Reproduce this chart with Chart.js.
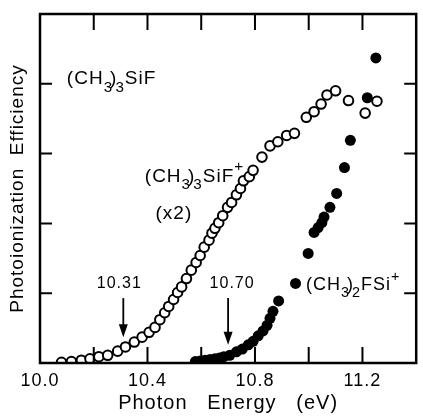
<!DOCTYPE html>
<html>
<head>
<meta charset="utf-8">
<script src="https://cdn.jsdelivr.net/npm/chart.js@4"></script>
<style>
  html, body { margin: 0; padding: 0; background: #fff; }
  #chart { display: block; }
</style>
</head>
<body>
<canvas id="chart" width="423" height="418"></canvas>
<script>
// (CH3)3SiF+ (x2) -- open circles
const openEnergy = [10.080, 10.117, 10.154, 10.186, 10.219, 10.252, 10.289, 10.318, 10.351, 10.380,
  10.406, 10.428, 10.446, 10.464, 10.479, 10.497, 10.512, 10.527, 10.545, 10.563,
  10.581, 10.596, 10.611, 10.629, 10.640, 10.651, 10.665, 10.680, 10.698, 10.713,
  10.731, 10.746, 10.757, 10.779, 10.793, 10.826, 10.856, 10.885, 10.918, 10.947,
  10.991, 11.020, 11.046, 11.068, 11.100, 11.148, 11.210, 11.254];
const openEff = [0.01, 0.02, 0.04, 0.06, 0.09, 0.11, 0.17, 0.23, 0.30, 0.37,
  0.44, 0.51, 0.62, 0.72, 0.81, 0.91, 1.01, 1.09, 1.21, 1.33,
  1.44, 1.54, 1.66, 1.76, 1.86, 1.93, 2.01, 2.11, 2.23, 2.30,
  2.41, 2.50, 2.61, 2.67, 2.76, 2.95, 3.11, 3.17, 3.26, 3.29,
  3.52, 3.60, 3.71, 3.84, 3.90, 3.76, 3.58, 3.75];

// (CH3)2FSi+ -- filled circles
const filledEnergy = [10.578, 10.596, 10.614, 10.633, 10.651, 10.668, 10.684, 10.706, 10.731, 10.753,
  10.775, 10.793, 10.812, 10.830, 10.845, 10.856, 10.867, 10.888, 10.951, 10.998,
  11.020, 11.035, 11.049, 11.057, 11.079, 11.104, 11.133, 11.155, 11.218, 11.250];
const filledEff = [0.02, 0.03, 0.04, 0.05, 0.06, 0.07, 0.09, 0.11, 0.16, 0.20,
  0.26, 0.31, 0.39, 0.46, 0.54, 0.64, 0.74, 0.89, 1.14, 1.57,
  1.87, 1.94, 2.01, 2.09, 2.23, 2.43, 2.80, 3.19, 3.80, 4.37];

// axes
const xLabelValues = [10.0, 10.4, 10.8, 11.2];
const xTickMarks = [10.2, 10.4, 10.6, 10.8, 11.0, 11.2];
const yTickMarks = [1, 2, 3, 4];

// thresholds marked with arrows
const onsetEnergy = [10.31, 10.70];
const onsetText = ['10.31', '10.70'];

const FONT = "'Liberation Sans', Arial, sans-serif";

function toPoints(xs, ys) {
  return xs.map((v, i) => ({ x: v, y: ys[i] }));
}

// formula text with sub/superscripts: [text, shift]  shift: 0 normal, 1 sub, -1 sup
function drawFormula(ctx, parts, x, y, size) {
  let cx = x;
  parts.forEach(p => {
    const s = p[1] === 0 ? size : size * 0.8;
    const dy = p[1] === 1 ? size * 0.38 : (p[1] === -1 ? -size * 0.55 : 0);
    ctx.font = s + 'px ' + FONT;
    ctx.fillText(p[0], cx, y + dy);
    cx += ctx.measureText(p[0]).width + (p[2] || 0);
  });
}

const decor = {
  id: 'decor',
  beforeDraw(chart) {
    chart.ctx.letterSpacing = '1px';
  },
  afterDraw(chart) {
    const ctx = chart.ctx;
    const a = chart.chartArea;
    const x = chart.scales.x, y = chart.scales.y;
    ctx.save();
    ctx.strokeStyle = '#000';
    ctx.fillStyle = '#000';

    // frame
    ctx.lineWidth = 2.5;
    ctx.strokeRect(a.left, a.top, a.right - a.left, a.bottom - a.top);

    // inward ticks
    ctx.lineWidth = 2;
    ctx.beginPath();
    xTickMarks.forEach(v => {
      const px = x.getPixelForValue(v);
      ctx.moveTo(px, a.bottom); ctx.lineTo(px, a.bottom - 16);
      ctx.moveTo(px, a.top); ctx.lineTo(px, a.top + 16);
    });
    yTickMarks.forEach(v => {
      const py = y.getPixelForValue(v);
      ctx.moveTo(a.left, py); ctx.lineTo(a.left + 12, py);
      ctx.moveTo(a.right, py); ctx.lineTo(a.right - 12, py);
    });
    ctx.stroke();

    // onset arrows
    ctx.lineWidth = 1.8;
    onsetEnergy.forEach((e, i) => {
      const px = x.getPixelForValue(e);
      const top = y.getPixelForValue(0.93);
      const tip = y.getPixelForValue(i === 0 ? 0.37 : 0.26);
      ctx.beginPath();
      ctx.moveTo(px, top); ctx.lineTo(px, tip - 8);
      ctx.stroke();
      ctx.beginPath();
      ctx.moveTo(px - 4.5, tip - 13); ctx.lineTo(px + 4.5, tip - 13); ctx.lineTo(px, tip);
      ctx.closePath();
      ctx.fill();
      ctx.font = '16px ' + FONT;
      ctx.textAlign = 'center';
      ctx.textBaseline = 'alphabetic';
      ctx.fillText(onsetText[i], px - (i === 0 ? 4 : -4), y.getPixelForValue(1.08));
    });

    // labels
    ctx.textAlign = 'left';
    drawFormula(ctx, [['(CH', 0], ['3', 1, -3], [')', 0, -2], ['3', 1], ['SiF', 0]],
      x.getPixelForValue(10.10), y.getPixelForValue(3.99), 19);
    drawFormula(ctx, [['(CH', 0], ['3', 1, -3], [')', 0, -2], ['3', 1], ['SiF', 0], ['+', -1]],
      x.getPixelForValue(10.39), y.getPixelForValue(2.60), 19);
    ctx.font = '19px ' + FONT;
    ctx.fillText('(x2)', x.getPixelForValue(10.43), y.getPixelForValue(2.06));
    drawFormula(ctx, [['(CH', 0], ['3', 1, -3], [')', 0, -2], ['2', 1], ['FSi', 0], ['+', -1]],
      x.getPixelForValue(10.99), y.getPixelForValue(1.04), 18);
    ctx.restore();
  }
};

new Chart(document.getElementById('chart'), {
  type: 'scatter',
  data: {
    datasets: [{
      label: '(CH3)3SiF+ (x2)',
      data: toPoints(openEnergy, openEff),
      pointStyle: 'circle',
      pointRadius: 4.8,
      pointBorderWidth: 2,
      pointBackgroundColor: '#fff',
      pointBorderColor: '#000'
    }, {
      label: '(CH3)2FSi+',
      data: toPoints(filledEnergy, filledEff),
      pointStyle: 'circle',
      pointRadius: 5.5,
      pointBorderWidth: 0,
      pointBackgroundColor: '#000',
      pointBorderColor: '#000'
    }]
  },
  options: {
    responsive: false,
    animation: false,
    layout: { padding: { left: 0, right: 1, top: 14, bottom: 0 } },
    plugins: {
      legend: { display: false },
      tooltip: { enabled: false }
    },
    scales: {
      x: {
        type: 'linear',
        min: 10.0,
        max: 11.4,
        afterFit: s => { s.height = 55; },
        afterBuildTicks: s => { s.ticks = xLabelValues.map(v => ({ value: v })); },
        ticks: {
          color: '#000',
          padding: 7,
          font: { family: FONT, size: 18 },
          callback: v => v.toFixed(1)
        },
        grid: { display: false, drawTicks: false },
        border: { display: false },
        title: {
          display: true,
          text: 'Photon   Energy   (eV)',
          color: '#000',
          font: { family: FONT, size: 20 },
          padding: { top: 0, bottom: 3 }
        }
      },
      y: {
        type: 'linear',
        min: 0,
        max: 5,
        afterFit: s => { s.width = 40; },
        ticks: { display: false },
        grid: { display: false, drawTicks: false },
        border: { display: false },
        title: {
          display: true,
          text: 'Photoionization  Efficiency',
          color: '#000',
          font: { family: FONT, size: 19 },
          padding: { top: 6, bottom: 0 }
        }
      }
    }
  },
  plugins: [decor]
});
</script>
</body>
</html>
